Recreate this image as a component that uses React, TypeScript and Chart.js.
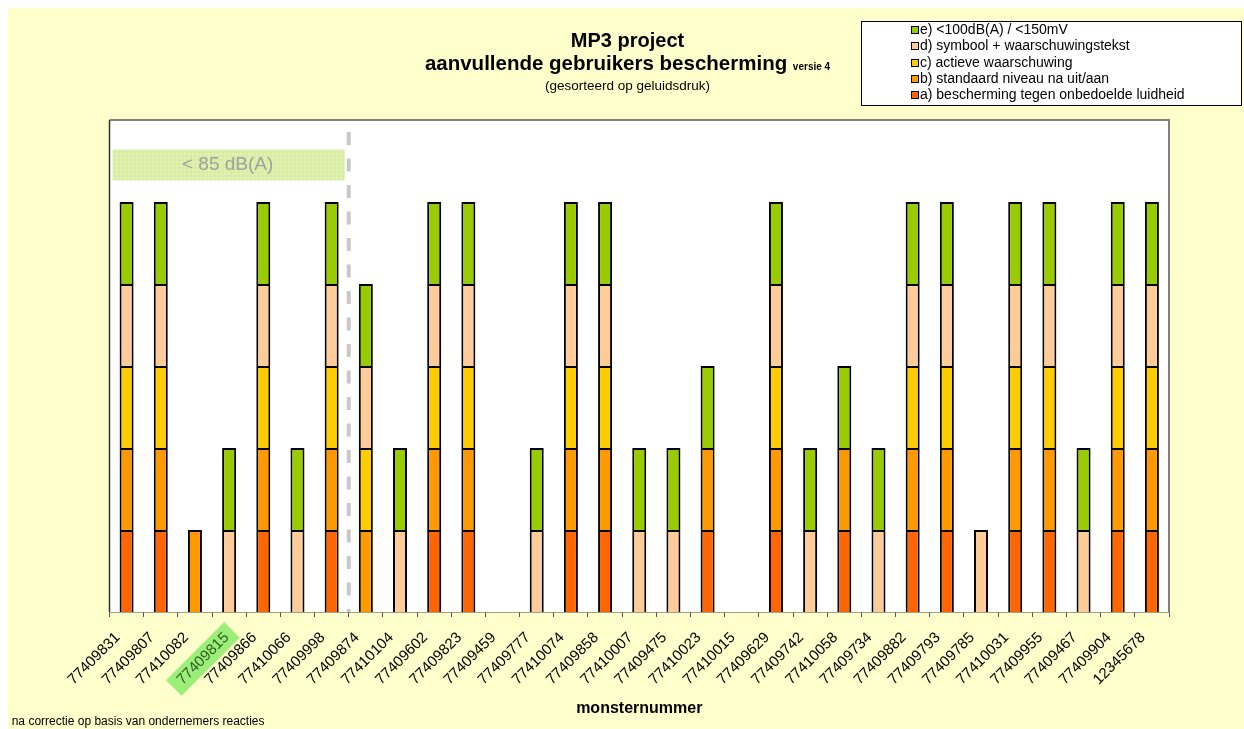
import React, { useEffect, useRef } from "react";
import { Chart, registerables } from "chart.js";

Chart.register(...registerables);

const categories = [
  "77409831", "77409807", "77410082", "77409815", "77409866", "77410066", "77409998", "77409874",
  "77410104", "77409602", "77409823", "77409459", "77409777", "77410074", "77409858", "77410007",
  "77409475", "77410023", "77410015", "77409629", "77409742", "77410058", "77409734", "77409882",
  "77409793", "77409785", "77410031", "77409955", "77409467", "77409904", "12345678",
];

const seriesA = [1, 1, 0, 0, 1, 0, 1, 0, 0, 1, 1, 0, 0, 1, 1, 0, 0, 1, 0, 1, 0, 1, 0, 1, 1, 0, 1, 1, 0, 1, 1];
const seriesB = [1, 1, 1, 0, 1, 0, 1, 1, 0, 1, 1, 0, 0, 1, 1, 0, 0, 1, 0, 1, 0, 1, 0, 1, 1, 0, 1, 1, 0, 1, 1];
const seriesC = [1, 1, 0, 0, 1, 0, 1, 1, 0, 1, 1, 0, 0, 1, 1, 0, 0, 0, 0, 1, 0, 0, 0, 1, 1, 0, 1, 1, 0, 1, 1];
const seriesD = [1, 1, 0, 1, 1, 1, 1, 1, 1, 1, 1, 0, 1, 1, 1, 1, 1, 0, 0, 1, 1, 0, 1, 1, 1, 1, 1, 1, 1, 1, 1];
const seriesE = [1, 1, 0, 1, 1, 1, 1, 1, 1, 1, 1, 0, 1, 1, 1, 1, 1, 1, 0, 1, 1, 1, 1, 1, 1, 0, 1, 1, 1, 1, 1];

const seriesLabels = [
  "a) bescherming tegen onbedoelde luidheid",
  "b) standaard niveau na uit/aan",
  "c) actieve waarschuwing",
  "d) symbool + waarschuwingstekst",
  "e) <100dB(A) / <150mV",
];
const seriesColors = ["#FF6600", "#FF9900", "#FFCC00", "#FFCC99", "#99CC00"];
const seriesValues = [seriesA, seriesB, seriesC, seriesD, seriesE];

const titleMain = "MP3 project";
const titleLine2 = "aanvullende gebruikers bescherming";
const titleVersion = "versie 4";
const subtitle = "(gesorteerd op geluidsdruk)";
const axisTitle = "monsternummer";
const footnote = "na correctie op basis van ondernemers reacties";
const thresholdLabel = "< 85 dB(A)";
const highlightIndex = 3;
const thresholdIndex = 6.5;

const FONT = "'Liberation Sans', Arial, Helvetica, sans-serif";

export default function App() {
  const ref = useRef<HTMLCanvasElement>(null);

  useEffect(() => {
    document.documentElement.style.overflow = "hidden";
    document.body.style.overflow = "hidden";
    const canvas = ref.current!;

    const decor = {
      id: "decor",
      beforeDatasetsDraw(chart: any) {
        const { ctx, chartArea: ca } = chart;
        ctx.save();
        ctx.fillStyle = "#FFFFFF";
        ctx.fillRect(ca.left, ca.top, ca.right - ca.left, ca.bottom - ca.top);
        ctx.restore();
      },
      afterDatasetsDraw(chart: any) {
        const { ctx, chartArea: ca, scales } = chart;
        const x = scales.x;
        ctx.save();
        // dashed threshold line
        const xd = x.getPixelForValue(thresholdIndex);
        ctx.strokeStyle = "#C8C8C8";
        ctx.lineWidth = 4;
        ctx.setLineDash([13, 13.5]);
        ctx.beginPath();
        ctx.moveTo(xd, ca.top + 12);
        ctx.lineTo(xd, ca.bottom);
        ctx.stroke();
        ctx.setLineDash([]);
        // band
        const bx0 = ca.left + 3;
        const bx1 = xd - 4;
        const by0 = ca.top + 29.5;
        const by1 = ca.top + 60;
        ctx.fillStyle = "#E2F2B4";
        ctx.fillRect(bx0, by0, bx1 - bx0, by1 - by0);
        ctx.strokeStyle = "rgba(200,230,140,0.5)";
        ctx.lineWidth = 1;
        for (let gx = bx0 + 2; gx < bx1; gx += 4) {
          ctx.beginPath();
          ctx.moveTo(gx + 0.5, by0);
          ctx.lineTo(gx + 0.5, by1);
          ctx.stroke();
        }
        for (let gy = by0 + 2; gy < by1; gy += 4) {
          ctx.beginPath();
          ctx.moveTo(bx0, gy + 0.5);
          ctx.lineTo(bx1, gy + 0.5);
          ctx.stroke();
        }
        ctx.fillStyle = "#A0A0A0";
        ctx.font = `19px ${FONT}`;
        ctx.textAlign = "center";
        ctx.textBaseline = "middle";
        ctx.fillText(thresholdLabel, (bx0 + bx1) / 2 - 1, (by0 + by1) / 2);
        ctx.restore();
      },
      afterDraw(chart: any) {
        const { ctx, chartArea: ca } = chart;
        ctx.save();
        // plot frame
        ctx.strokeStyle = "#808080";
        ctx.lineWidth = 2;
        ctx.beginPath();
        ctx.moveTo(ca.left, ca.top);
        ctx.lineTo(ca.right, ca.top);
        ctx.lineTo(ca.right, ca.bottom);
        ctx.stroke();
        ctx.strokeStyle = "#333333";
        ctx.lineWidth = 1.5;
        ctx.beginPath();
        ctx.moveTo(ca.left, ca.top);
        ctx.lineTo(ca.left, ca.bottom);
        ctx.stroke();

        // titles
        const cx = 619.5;
        ctx.fillStyle = "#000000";
        ctx.textBaseline = "alphabetic";
        ctx.textAlign = "center";
        ctx.font = `bold 20px ${FONT}`;
        ctx.fillText(titleMain, cx, 38.5);
        ctx.textAlign = "left";
        ctx.font = `bold 20.5px ${FONT}`;
        const w1 = ctx.measureText(titleLine2 + " ").width;
        ctx.font = `bold 10px ${FONT}`;
        const w2 = ctx.measureText(titleVersion).width;
        const sx = cx - (w1 + w2) / 2;
        ctx.font = `bold 20.5px ${FONT}`;
        ctx.fillText(titleLine2, sx, 62);
        ctx.font = `bold 10px ${FONT}`;
        ctx.fillText(titleVersion, sx + w1, 62);
        ctx.textAlign = "center";
        ctx.font = `13.5px ${FONT}`;
        ctx.textBaseline = "middle";
        ctx.fillText(subtitle, cx, 78);

        // legend box
        const lx = 853.5, ly = 13.5, lw = 380, lh = 84;
        ctx.fillStyle = "#FFFFFF";
        ctx.fillRect(lx, ly, lw, lh);
        ctx.strokeStyle = "#000000";
        ctx.lineWidth = 1;
        ctx.strokeRect(lx, ly, lw, lh);
        ctx.font = `14px ${FONT}`;
        ctx.textAlign = "left";
        ctx.textBaseline = "middle";
        for (let r = 0; r < seriesLabels.length; r++) {
          const si = seriesLabels.length - 1 - r;
          const yy = 22 + r * 16.35;
          ctx.fillStyle = seriesColors[si];
          ctx.fillRect(903.5, Math.round(yy) - 3.5, 7, 7);
          ctx.strokeStyle = "#000000";
          ctx.lineWidth = 1;
          ctx.strokeRect(903.5, Math.round(yy) - 3.5, 7, 7);
          ctx.fillStyle = "#000000";
          ctx.fillText(seriesLabels[si], 912, yy);
        }

        // footnote
        ctx.font = `12px ${FONT}`;
        ctx.textAlign = "left";
        ctx.textBaseline = "middle";
        ctx.fillStyle = "#000000";
        ctx.fillText(footnote, 3.7, 713.5);
        ctx.restore();
      },
    };

    const chart = new Chart(canvas, {
      type: "bar",
      data: {
        labels: categories,
        datasets: seriesValues.map((vals, i) => ({
          label: seriesLabels[i],
          data: vals.map((v) => (v === 0 ? null : v)),
          backgroundColor: seriesColors[i],
          borderColor: "#000000",
          borderWidth: 2,
          barPercentage: 0.41,
          categoryPercentage: 1,
        })),
      },
      options: {
        animation: false,
        responsive: false,
        maintainAspectRatio: false,
        layout: { padding: { left: 101.5, top: 112, right: 75, bottom: 0 } },
        plugins: {
          legend: { display: false },
          title: { display: false },
          tooltip: { enabled: false },
        },
        scales: {
          x: {
            stacked: true,
            offset: true,
            afterFit: (scale: any) => {
              scale.height = 117;
            },
            grid: {
              display: true,
              drawOnChartArea: false,
              drawTicks: true,
              tickLength: 5,
              color: "#555555",
              offset: true,
            },
            border: { display: true, color: "#444444", width: 1.5 },
            ticks: {
              autoSkip: false,
              maxRotation: 45,
              minRotation: 45,
              padding: 3,
              color: (c: any) => (c.index === highlightIndex ? "#2E5E22" : "#000000"),
              font: { family: FONT, size: 15 },
              callback: (_v: any, i: number) => categories[i] + "   ",
              showLabelBackdrop: (c: any) => c.index === highlightIndex,
              backdropColor: (c: any) => (c.index === highlightIndex ? "#9BEE78" : "rgba(0,0,0,0)"),
              backdropPadding: { left: 8, right: -5, top: 2, bottom: 2 },
            } as any,
            title: {
              display: true,
              text: axisTitle,
              color: "#000000",
              font: { family: FONT, size: 16, weight: "bold" },
              padding: { top: 0, bottom: 11 },
            },
          },
          y: {
            stacked: true,
            display: false,
            min: 0,
            max: 6,
          },
        },
      },
      plugins: [decor],
    });

    return () => chart.destroy();
  }, []);

  return (
    <div style={{ position: "absolute", left: 8, top: 8, width: 1236, height: 721, background: "#FFFFCC", overflow: "hidden" }}>
      <canvas ref={ref} width={1236} height={721} style={{ display: "block", width: 1236, height: 721 }} />
    </div>
  );
}
